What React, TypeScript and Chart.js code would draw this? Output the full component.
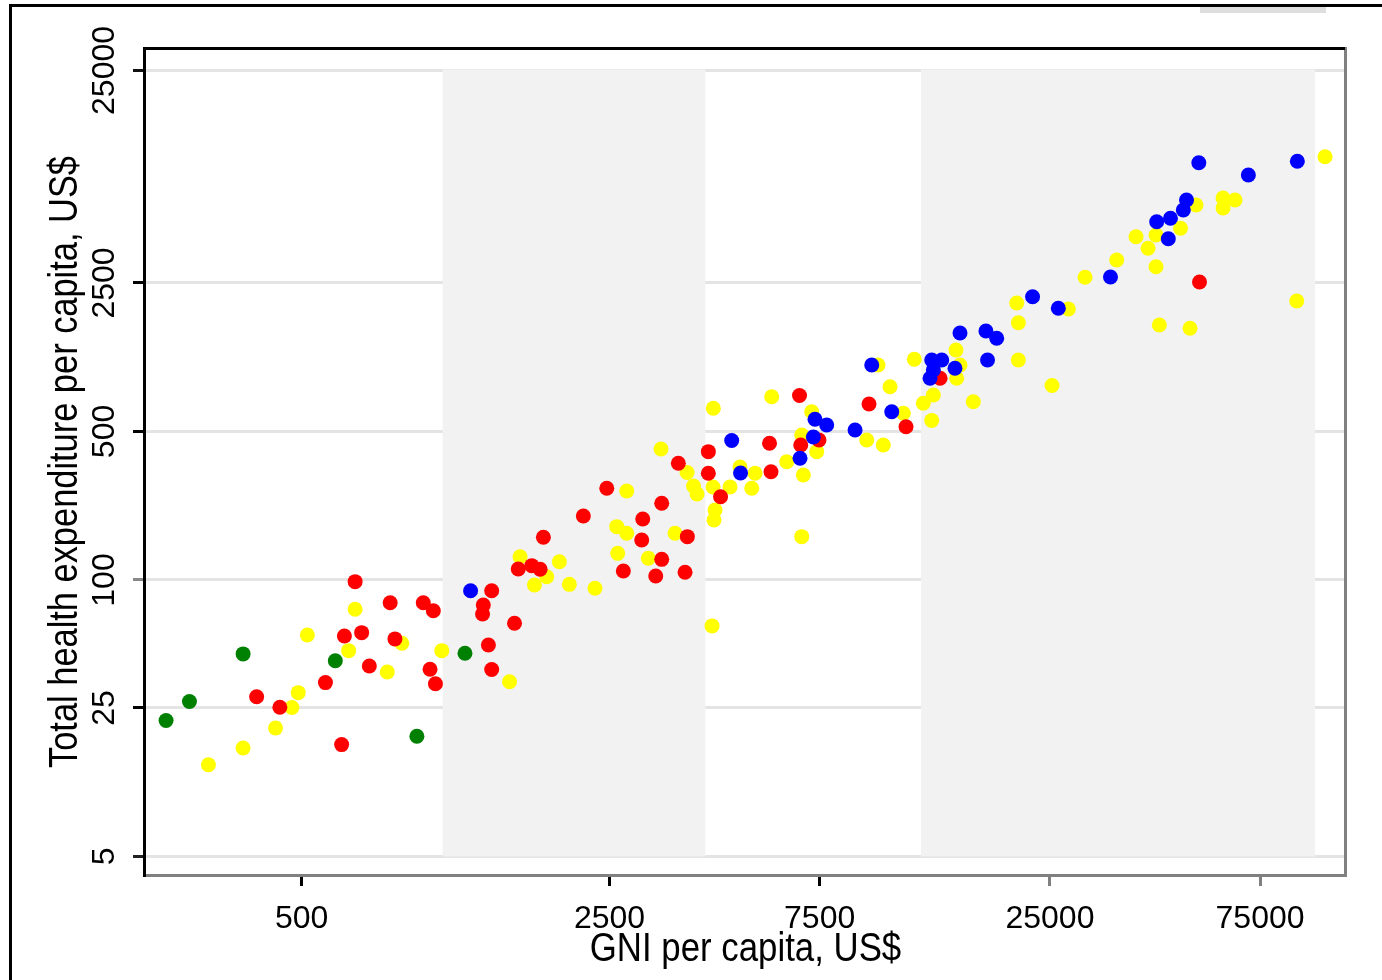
import React, { useEffect, useRef } from "react";
import { Chart, registerables } from "chart.js";

Chart.register(...registerables);

// ---- data (GNI per capita US$, total health expenditure per capita US$) ----
const greenGni = [246, 278, 368, 596, 913, 1174];
const greenThe = [21.8, 26.8, 44.9, 41.7, 18.4, 45.2];

const yellowGni = [
  307, 368, 436, 475, 491, 515, 639, 661, 782, 844, 1040, 1482, 1566, 1800, 1688, 1923,
  2026, 2317, 2596, 2735, 2609, 3062, 2735, 3272, 3521, 3749, 3878, 3950, 4301, 4295,
  4340, 4317, 4273, 4693, 4945, 5350, 5258, 5837, 6315, 6887, 6829, 7194, 6829, 7385,
  9592, 10462, 10835, 11614, 12303, 12894, 13590, 13474, 15297, 15353, 15621, 16749,
  21015, 21195, 21195, 25274, 27527, 30036, 35444, 39215, 41756, 43533, 43533, 44291,
  49490, 52000, 53660, 61800, 65800, 61800, 90850, 105340, 10176,
];
const yellowThe = [
  13.5, 16.2, 20.1, 25.1, 29.5, 55.1, 46.5, 72.8, 36.9, 50.4, 46.5, 33.2, 128.7, 103.6, 94.7, 121.9,
  95.4, 91.4, 178.2, 165.9, 133.5, 126.5, 262.3, 413.6, 165.9, 320.5, 277.0, 254.0, 642.7, 273.9,
  213.5, 191.6, 60.8, 273.9, 340.2, 317.7, 270.1, 728.8, 360.3, 311.9, 159.9, 619.4, 481.3, 401.7,
  455.9, 431.8, 812.1, 608.8, 1093, 678.4, 742.4, 563.2, 1209, 889.6, 1027, 690.4,
  2011, 1625, 1085, 822.8, 1885, 2658, 3205, 4126, 3638, 4202, 2981, 1585,
  4519, 1529, 5818, 6274, 6140, 5632, 2055, 9817, 1027,
];

const redGni = [
  395, 446, 566, 616, 625, 661, 684, 712, 794, 814, 944, 995, 978, 1006, 1350, 1292,
  1287, 1327, 1350, 1521, 1551, 1665, 1739, 1769, 2180, 2464, 2974, 2958, 3284, 3284,
  2687, 3183, 3710, 3755, 3582, 4191, 4191, 4467, 5770, 5815, 6750, 6794, 7474, 9708,
  11780, 14075, 54650,
];
const redThe = [
  28.2, 25.2, 32.9, 16.8, 54.5, 98.2, 56.5, 39.4, 78.2, 52.8, 78.2, 71.7, 38.0, 32.5, 89.0, 76.3,
  69.2, 49.4, 37.9, 62.6, 112.7, 116.8, 112.3, 158.8, 200.1, 270.1, 193.7, 154.3, 229.6, 125.1,
  110.3, 104.4, 108.7, 159.9, 354.2, 401.7, 317.7, 246.6, 439.8, 323.3, 738.3, 431.8, 455.9, 673.3,
  526.5, 889.6, 2526,
];

const blueGni = [
  1209, 4735, 4959, 6768, 7319, 7781, 7256, 9025, 9847, 10933, 13474, 14199, 13590, 13357,
  15216, 15621, 17890, 18926, 18040, 22830, 26120, 34310, 43690, 46950, 46420, 50210,
  51060, 54450, 70550, 91140,
];
const blueThe = [
  89.0, 453.5, 318.7, 373.8, 570.5, 536.3, 470.9, 508.0, 1027, 619.4, 1085, 1085, 973, 889.6,
  991.3, 1453, 1485, 1372, 1085, 2154, 1900, 2667, 4855, 5036, 4034, 5510,
  6140, 9200, 8052, 9350,
];

// income-group shaded bands on the GNI axis
const bandStarts = [1045, 12736];
const bandEnds = [4125, 100000];
const bandYLow = 5;
const bandYHigh = 25000;

const xTickValues = [500, 2500, 7500, 25000, 75000];
const xTickLabels = ["500", "2500", "7500", "25000", "75000"];
const yTickValues = [5, 25, 100, 500, 2500, 25000];
const yTickLabels = ["5", "25", "100", "500", "2500", "25000"];

const xMin = 221.5;
const xMax = 116930;
const yMin = 4.134;
const yMax = 31200;

const xTitle = "GNI per capita, US$";
const yTitle = "Total health expenditure per capita, US$";

const FONT = '"Liberation Sans", Arial, sans-serif';

const toPts = (xs: number[], ys: number[]) => xs.map((x, i) => ({ x, y: ys[i] }));

const decorPlugin = {
  id: "decor",
  beforeDatasetsDraw(chart: any) {
    const { ctx } = chart;
    const xs = chart.scales.x;
    const ys = chart.scales.y;
    ctx.save();
    ctx.fillStyle = "#f2f2f2";
    const top = ys.getPixelForValue(bandYHigh);
    const bot = ys.getPixelForValue(bandYLow);
    for (let i = 0; i < bandStarts.length; i++) {
      const a = xs.getPixelForValue(bandStarts[i]);
      const b = xs.getPixelForValue(bandEnds[i]);
      ctx.fillRect(a, top - 1, b - a, bot - top + 1);
    }
    ctx.restore();
  },
  afterDraw(chart: any) {
    const { ctx, chartArea } = chart;
    const xs = chart.scales.x;
    const ys = chart.scales.y;
    ctx.save();
    // outer frame
    ctx.fillStyle = "#000";
    ctx.fillRect(9, 4, 1373, 3);
    ctx.fillRect(9, 4, 3, 976);
    ctx.fillStyle = "#dedede";
    ctx.fillRect(1200, 7, 126, 6);

    // panel borders
    const L = chartArea.left, R = chartArea.right, T = chartArea.top, B = chartArea.bottom;
    ctx.fillStyle = "#808080";
    ctx.fillRect(R - 1, T - 3, 3, B - T + 6);
    ctx.fillRect(L - 3, B, R - L + 5, 3);
    ctx.fillStyle = "#000";
    ctx.fillRect(L - 3, T - 3, 3, B - T + 6);
    ctx.fillRect(L - 3, T - 3, R - L + 3, 3);

    ctx.fillStyle = "#000";
    // x tick labels
    ctx.font = `32px ${FONT}`;
    ctx.textAlign = "center";
    ctx.textBaseline = "alphabetic";
    xTickValues.forEach((v, i) => {
      ctx.fillText(xTickLabels[i], xs.getPixelForValue(v), 928);
    });
    // y tick labels (rotated)
    yTickValues.forEach((v, i) => {
      ctx.save();
      ctx.translate(114, ys.getPixelForValue(v));
      ctx.rotate(-Math.PI / 2);
      ctx.fillText(yTickLabels[i], 0, 0);
      ctx.restore();
    });
    // axis titles
    ctx.font = `40px ${FONT}`;
    ctx.save();
    ctx.translate((L + R) / 2, 961);
    ctx.scale(0.87, 1);
    ctx.fillText(xTitle, 0, 0);
    ctx.restore();
    ctx.save();
    ctx.translate(77, (T + B) / 2);
    ctx.rotate(-Math.PI / 2);
    ctx.scale(0.86, 1);
    ctx.fillText(yTitle, 0, 0);
    ctx.restore();
    ctx.restore();
  },
};

const xTickColors = ["#000", "#000", "#000", "#808080", "#808080"];
const yTickColors = ["#222", "#000", "#888", "#000", "#000", "#111"];

export default function App() {
  const ref = useRef<HTMLCanvasElement | null>(null);
  useEffect(() => {
    document.body.style.margin = "0";
    const canvas = ref.current;
    if (!canvas) return;
    const ds = (label: string, xs: number[], ys: number[], color: string) => ({
      label,
      data: toPts(xs, ys),
      backgroundColor: color,
      borderColor: color,
      borderWidth: 0,
      pointRadius: 7.5,
      pointHoverRadius: 7.5,
    });
    const chart = new Chart(canvas, {
      type: "scatter",
      data: {
        datasets: [
          ds("blue", blueGni, blueThe, "#0000ff"),
          ds("red", redGni, redThe, "#ff0000"),
          ds("green", greenGni, greenThe, "#008000"),
          ds("yellow", yellowGni, yellowThe, "#ffff00"),
        ],
      },
      options: {
        responsive: false,
        animation: false,
        devicePixelRatio: 1,
        events: [],
        layout: { padding: { left: 0, top: 50, right: 37, bottom: 0 } },
        plugins: { legend: { display: false }, tooltip: { enabled: false }, title: { display: false } },
        scales: {
          x: {
            type: "logarithmic",
            min: xMin,
            max: xMax,
            border: { display: false },
            grid: {
              drawOnChartArea: false,
              drawTicks: true,
              tickLength: 12,
              tickWidth: 3,
              tickColor: (c: any) => xTickColors[c.index] || "#000",
            },
            ticks: { display: false },
            afterBuildTicks: (s: any) => {
              s.ticks = xTickValues.map((v) => ({ value: v }));
            },
            afterFit: (s: any) => {
              s.height = 106;
            },
          },
          y: {
            type: "logarithmic",
            min: yMin,
            max: yMax,
            border: { display: false },
            grid: {
              drawOnChartArea: true,
              color: "#e4e4e4",
              lineWidth: 3,
              drawTicks: true,
              tickLength: 13,
              tickWidth: 3,
              tickColor: (c: any) => yTickColors[c.index] || "#000",
            },
            ticks: { display: false },
            afterBuildTicks: (s: any) => {
              s.ticks = yTickValues.map((v) => ({ value: v }));
            },
            afterFit: (s: any) => {
              s.width = 146;
            },
          },
        },
      },
      plugins: [decorPlugin],
    });
    return () => chart.destroy();
  }, []);
  return (
    <div style={{ width: 1382, height: 980, position: "relative", background: "#fff" }}>
      <canvas ref={ref} width={1382} height={980} style={{ display: "block" }} />
    </div>
  );
}
